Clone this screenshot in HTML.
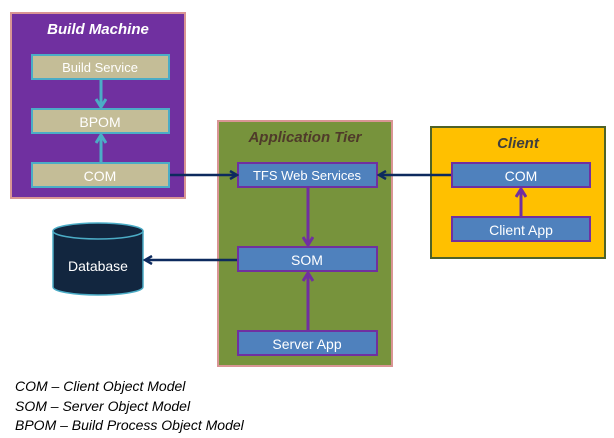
<!DOCTYPE html>
<html><head><meta charset="utf-8"><style>
html,body{margin:0;padding:0;background:#fff;}
svg{display:block;}
text{font-family:"Liberation Sans",sans-serif;}
</style></head><body>
<svg width="614" height="438" viewBox="0 0 614 438" xmlns="http://www.w3.org/2000/svg">
<defs>
<marker id="an" markerWidth="10" markerHeight="10" refX="8" refY="5" orient="auto" markerUnits="userSpaceOnUse">
<path d="M1,1 L8,5 L1,9" fill="none" stroke="#0d2a5e" stroke-width="2.5"/></marker>
<marker id="ac" markerWidth="12" markerHeight="12" refX="9" refY="6" orient="auto" markerUnits="userSpaceOnUse">
<path d="M1,1 L9,6 L1,11" fill="none" stroke="#4bacc6" stroke-width="3"/></marker>
<marker id="ap" markerWidth="12" markerHeight="12" refX="9" refY="6" orient="auto" markerUnits="userSpaceOnUse">
<path d="M1,1 L9,6 L1,11" fill="none" stroke="#7030a0" stroke-width="3"/></marker>
</defs>
<rect x="11" y="13" width="174" height="185" fill="#7030a0" stroke="#d99594" stroke-width="2"/>
<text x="98" y="34" text-anchor="middle" font-size="15" font-weight="bold" font-style="italic" fill="#fff">Build Machine</text>
<rect x="32" y="55" width="137" height="24" fill="#c4bd97" stroke="#4bacc6" stroke-width="2"/>
<text x="100" y="72" text-anchor="middle" font-size="13" fill="#fff">Build Service</text>
<rect x="32" y="109" width="137" height="24" fill="#c4bd97" stroke="#4bacc6" stroke-width="2"/>
<text x="100" y="127" text-anchor="middle" font-size="14" fill="#fff">BPOM</text>
<rect x="32" y="163" width="137" height="24" fill="#c4bd97" stroke="#4bacc6" stroke-width="2"/>
<text x="100" y="181" text-anchor="middle" font-size="14" fill="#fff">COM</text>
<line x1="101" y1="80" x2="101" y2="107" stroke="#4bacc6" stroke-width="3" marker-end="url(#ac)"/>
<line x1="101" y1="162" x2="101" y2="135" stroke="#4bacc6" stroke-width="3" marker-end="url(#ac)"/>
<rect x="218" y="121" width="174" height="245" fill="#77933c" stroke="#d99594" stroke-width="2"/>
<text x="305" y="142" text-anchor="middle" font-size="15" font-weight="bold" font-style="italic" fill="#4f3a2a">Application Tier</text>
<rect x="238" y="163" width="139" height="24" fill="#4f81bd" stroke="#7030a0" stroke-width="2"/>
<text x="307" y="180" text-anchor="middle" font-size="13" fill="#fff">TFS Web Services</text>
<rect x="238" y="247" width="139" height="24" fill="#4f81bd" stroke="#7030a0" stroke-width="2"/>
<text x="307" y="265" text-anchor="middle" font-size="14" fill="#fff">SOM</text>
<rect x="238" y="331" width="139" height="24" fill="#4f81bd" stroke="#7030a0" stroke-width="2"/>
<text x="307" y="349" text-anchor="middle" font-size="14" fill="#fff">Server App</text>
<line x1="308" y1="188" x2="308" y2="245" stroke="#7030a0" stroke-width="3" marker-end="url(#ap)"/>
<line x1="308" y1="330" x2="308" y2="273" stroke="#7030a0" stroke-width="3" marker-end="url(#ap)"/>
<rect x="431" y="127" width="174" height="131" fill="#ffc000" stroke="#4f6228" stroke-width="2"/>
<text x="518" y="148" text-anchor="middle" font-size="15" font-weight="bold" font-style="italic" fill="#3f3f3f">Client</text>
<rect x="452" y="163" width="138" height="24" fill="#4f81bd" stroke="#7030a0" stroke-width="2"/>
<text x="521" y="181" text-anchor="middle" font-size="14" fill="#fff">COM</text>
<rect x="452" y="217" width="138" height="24" fill="#4f81bd" stroke="#7030a0" stroke-width="2"/>
<text x="521" y="235" text-anchor="middle" font-size="14" fill="#fff">Client App</text>
<line x1="521" y1="216" x2="521" y2="189" stroke="#7030a0" stroke-width="3" marker-end="url(#ap)"/>
<path d="M53,231 L53,287 A45,8 0 0 0 143,287 L143,231" fill="#12263f" stroke="#4bacc6" stroke-width="1.5"/>
<ellipse cx="98" cy="231" rx="45" ry="8" fill="#12263f" stroke="#4bacc6" stroke-width="1.5"/>
<text x="98" y="271" text-anchor="middle" font-size="14" fill="#fff">Database</text>
<line x1="170" y1="175" x2="237" y2="175" stroke="#0d2a5e" stroke-width="2.5" marker-end="url(#an)"/>
<line x1="451" y1="175" x2="379" y2="175" stroke="#0d2a5e" stroke-width="2.5" marker-end="url(#an)"/>
<line x1="237" y1="260" x2="145" y2="260" stroke="#0d2a5e" stroke-width="2.5" marker-end="url(#an)"/>
<g font-size="14" font-style="italic" fill="#000">
<text x="15" y="391">COM – Client Object Model</text>
<text x="15" y="411">SOM – Server Object Model</text>
<text x="15" y="430">BPOM – Build Process Object Model</text>
</g>
</svg>
</body></html>
